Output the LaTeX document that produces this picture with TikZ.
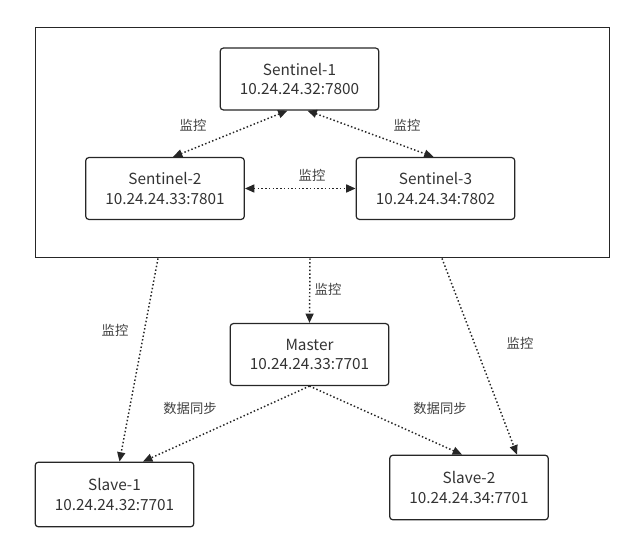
\documentclass[tikz,border=0pt]{standalone}
\usepackage{fontspec}
\setmainfont{Noto Sans CJK SC}
\usetikzlibrary{arrows.meta,calc}

\begin{document}
\begin{tikzpicture}[x=0.75pt,y=-0.75pt,>={Triangle[length=7pt,width=6pt]},
  srvbox/.style={draw=black!85,rounded corners=2.5pt,line width=0.9pt,minimum width=119pt,minimum height=46.5pt,align=center,text=black!80,font=\fontsize{11.5}{14.5}\selectfont},
  watch/.style={draw=black!85,line width=1.1pt,dash pattern=on 1.1pt off 1.7pt},
  tag/.style={text=black!75,font=\fontsize{10}{12}\selectfont,inner sep=1pt}]
\useasboundingbox (0,0) rectangle (625,549);
\node[draw=black!85,line width=0.9pt,minimum width=431pt,minimum height=173pt,inner sep=0pt] (group) at (322.5,142.5) {};
\node[srvbox] (s1) at (299.5,79) {Sentinel-1\\10.24.24.32:7800};
\node[srvbox] (s2) at (165,188.5) {Sentinel-2\\10.24.24.33:7801};
\node[srvbox] (s3) at (435.5,188.5) {Sentinel-3\\10.24.24.34:7802};
\node[srvbox] (master) at (309.5,354.5) {Master\\10.24.24.33:7701};
\node[srvbox,minimum height=48.5pt] (sl1) at (114.5,494.5) {Slave-1\\10.24.24.32:7701};
\node[srvbox,minimum height=48.5pt] (sl2) at (469,487.5) {Slave-2\\10.24.24.34:7701};
% sentinels watch each other
\draw[watch,<->] ($(s1.south)+(-12,0)$) -- ($(s2.north)+(8,0)$);
\draw[watch,<->] ($(s1.south)+(8,0)$) -- ($(s3.north)+(-2,0)$);
\draw[watch,<->] (s2.east) -- (s3.west);
\node[tag] (t1) at (193,125) {监控};
\node[tag] (t2) at (407,125) {监控};
\node[tag] (t3) at (312,175) {监控};
% sentinels watch the data nodes
\coordinate (g1) at ($(group.south)+(-164.5,0)$);
\coordinate (g2) at ($(group.south)+(-12.5,0)$);
\coordinate (g3) at ($(group.south)+(119.5,0)$);
\draw[watch,->] (g1) -- ($(sl1.north)+(5,0)$);
\draw[watch,->] (g2) -- (master.north);
\draw[watch,->] (g3) -- ($(sl2.north)+(48,0)$);
\node[tag] (t4) at (115,330) {监控};
\node[tag] (t5) at (328,289) {监控};
\node[tag] (t6) at (520,343) {监控};
% replication
\draw[watch,->] (master.south) -- ($(sl1.north)+(28.5,0)$);
\draw[watch,->] (master.south) -- ($(sl2.north)+(-7,0)$);
\node[tag] (t7) at (190,408) {数据同步};
\node[tag] (t8) at (440,408) {数据同步};
\end{tikzpicture}
\end{document}
